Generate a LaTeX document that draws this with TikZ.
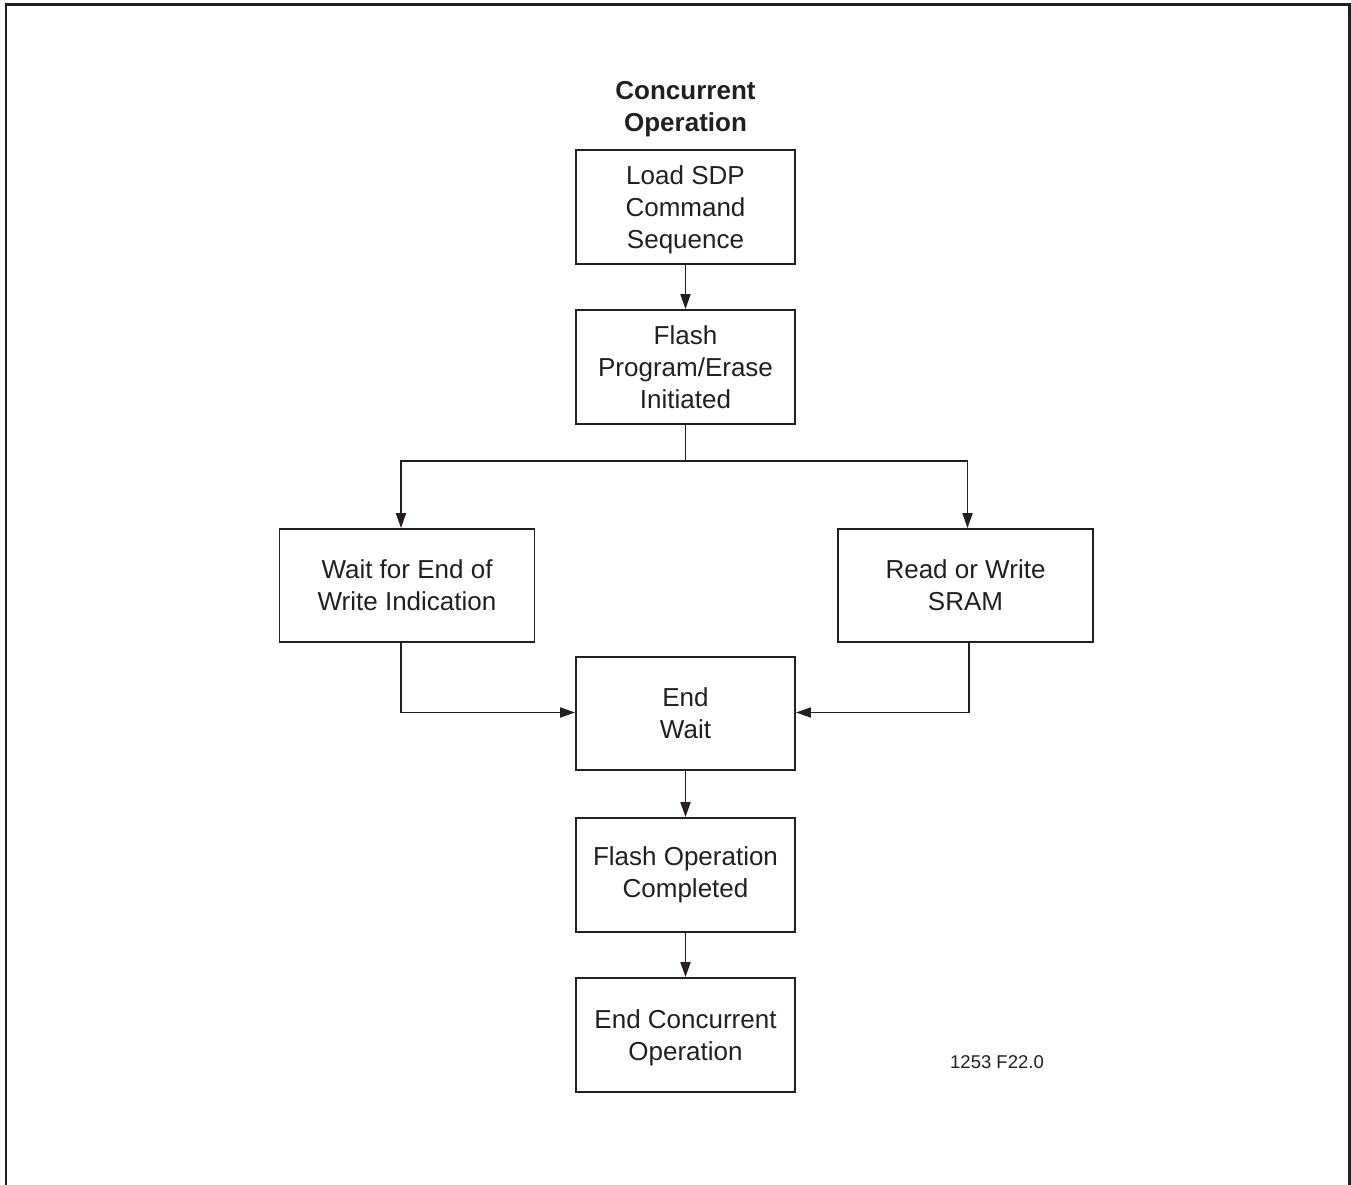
\documentclass[tikz,border=0pt]{standalone}
\usepackage{fontspec}
\setmainfont{Liberation Sans}
\usetikzlibrary{arrows.meta}
\definecolor{ink}{RGB}{35,31,32}
\begin{document}
\begin{tikzpicture}[x=1pt,y=-1pt,
  box/.style={draw=ink, line width=1.8pt, text=ink, align=center, inner sep=0pt,
    font=\fontsize{26}{32}\selectfont},
  midbox/.style={box, minimum width=219pt, minimum height=114pt},
  sidebox/.style={box, minimum width=255pt, minimum height=113pt},
  conn/.style={draw=ink, line width=1.8pt, -{Triangle[length=15pt,width=10pt]}},
  plain/.style={draw=ink, line width=1.8pt}]
\useasboundingbox (0,0) rectangle (1351,1184);
\draw[ink, line width=2.2pt] (6,1195) -- (6,4.5) -- (1349.5,4.5) -- (1349.5,1195);

\node[text=ink, align=center, font=\bfseries\fontsize{26}{32}\selectfont] (title) at (685.5,109) {Concurrent\\Operation};

\node[midbox] (load) at (685.5,207) {Load SDP\\Command\\\smash{Sequence}};
\node[midbox] (flash) at (685.5,367) {Flash\\Program/Erase\\Initiated};
\node[sidebox] (wait) at (407,585.5) {Wait for End of\\Write Indication};
\node[sidebox] (rw) at (965.5,585.5) {Read or Write\\SRAM};
\node[midbox, minimum height=113pt] (endw) at (685.5,713.5) {End\\Wait};
\node[midbox] (done) at (685.5,875) {Flash Operation\\Completed};
\node[midbox] (endc) at (685.5,1035) {End Concurrent\\\smash{Operation}};

\node[text=ink, font=\fontsize{18.5}{22}\selectfont] (fig) at (997,1062.5) {1253 F22.0};

\coordinate (lx) at (401,0);
\coordinate (rx) at (967.5,0);
\coordinate (rxb) at (969,0);
\coordinate (jy) at (0,712.5);
\path (flash.south) ++(0,36) coordinate (split);

\draw[conn] (load) -- (flash);
\draw[plain] (flash.south) -- (split);
\draw[conn] (split) -| (wait.north -| lx);
\draw[conn] (split) -| (rw.north -| rx);
\draw[conn] (wait.south -| lx) |- (endw.west |- jy);
\draw[conn] (rw.south -| rxb) |- (endw.east |- jy);
\draw[conn] (endw) -- (done);
\draw[conn] (done) -- (endc);
\end{tikzpicture}
\end{document}
